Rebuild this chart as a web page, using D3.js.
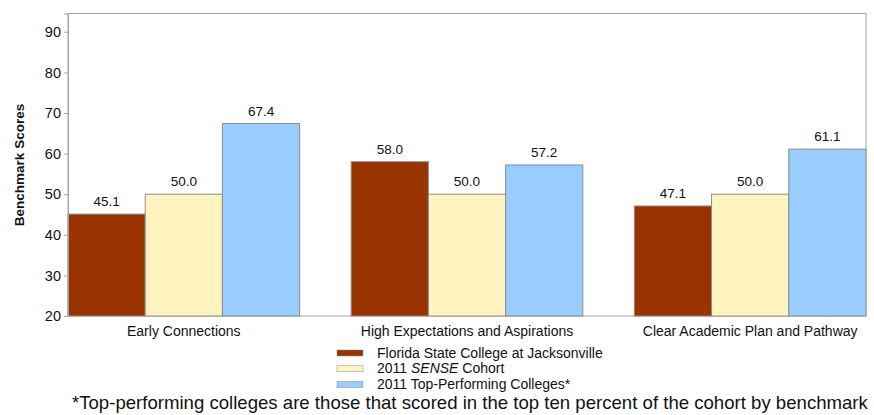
<!DOCTYPE html>
<html>
<head>
<meta charset="utf-8">
<script src="https://cdn.jsdelivr.net/npm/d3@7"></script>
<style>
  body { margin: 0; background: #fff; }
  text { font-family: "Liberation Sans", Arial, sans-serif; fill: #111; }
</style>
</head>
<body>
<svg id="chart" width="874" height="415"></svg>
<script>
// data
const categories = ["Early Connections", "High Expectations and Aspirations", "Clear Academic Plan and Pathway"];
const series = ["Florida State College at Jacksonville", "2011 SENSE Cohort", "2011 Top-Performing Colleges*"];
const college = [45.1, 58.0, 47.1];
const cohort = [50.0, 50.0, 50.0];
const topColleges = [67.4, 57.2, 61.1];
const yTicks = [20, 30, 40, 50, 60, 70, 80, 90];
const colors = ["#993300", "#fff4c0", "#99ccff"];

const values = [college, cohort, topColleges];

const margin = {top: 13.5, right: 8, bottom: 99, left: 68};
const width = 874, height = 415;
const inWidth = width - margin.left - margin.right;
const inHeight = height - margin.top - margin.bottom;

const svg = d3.select("#chart");
const g = svg.append("g").attr("transform", `translate(${margin.left},${margin.top})`);

const x0 = d3.scaleBand()
    .domain(categories)
    .range([0, inWidth])
    .paddingInner(0.182)
    .paddingOuter(0);

const x1 = d3.scaleBand()
    .domain(series)
    .range([0, x0.bandwidth()]);

const y = d3.scaleLinear()
    .domain([20, 94.5])
    .range([inHeight, 0]);

// frame
g.append("rect")
    .attr("width", inWidth)
    .attr("height", inHeight)
    .attr("fill", "none")
    .attr("stroke", "#a6a6a6");

// bars
const groups = g.selectAll(".group")
    .data(categories)
    .enter().append("g")
    .attr("transform", d => `translate(${x0(d)},0)`);

groups.selectAll("rect")
    .data((d, i) => series.map((s, j) => ({s: s, v: values[j][i], j: j})))
    .enter().append("rect")
    .attr("x", d => x1(d.s))
    .attr("y", d => y(d.v))
    .attr("width", x1.bandwidth())
    .attr("height", d => y(20) - y(d.v))
    .attr("fill", d => colors[d.j])
    .attr("stroke", "#8c8c8c")
    .attr("stroke-width", 1);

groups.selectAll(".val")
    .data((d, i) => series.map((s, j) => ({s: s, v: values[j][i]})))
    .enter().append("text")
    .attr("x", d => x1(d.s) + x1.bandwidth() / 2)
    .attr("y", d => y(d.v) - 8)
    .attr("text-anchor", "middle")
    .style("font-size", "13.5px")
    .text(d => d.v.toFixed(1));

// y axis
const yAxis = g.append("g")
    .call(d3.axisLeft(y).tickValues(yTicks).tickSize(4).tickPadding(3));
yAxis.select(".domain").attr("stroke", "#a6a6a6");
yAxis.selectAll(".tick line").attr("stroke", "#a6a6a6");
yAxis.selectAll(".tick text").style("font-size", "14.5px").attr("fill", "#111");

// x labels
g.append("g")
    .selectAll("text")
    .data(categories)
    .enter().append("text")
    .attr("x", d => x0(d) + x0.bandwidth() / 2)
    .attr("y", inHeight + 20)
    .attr("text-anchor", "middle")
    .style("font-size", "14px")
    .text(d => d);

// y title
svg.append("text")
    .attr("transform", `translate(24,165) rotate(-90)`)
    .attr("text-anchor", "middle")
    .style("font-size", "13.5px")
    .style("font-weight", "bold")
    .text("Benchmark Scores");

// legend
const legend = svg.append("g").attr("transform", "translate(337,353)");
series.forEach((s, i) => {
    const row = legend.append("g").attr("transform", `translate(0,${i * 15.8})`);
    row.append("rect")
        .attr("x", 0).attr("y", -3)
        .attr("width", 26).attr("height", 6)
        .attr("fill", colors[i])
        .attr("stroke", "#8c8c8c")
        .attr("stroke-width", 0.5);
    const t = row.append("text")
        .attr("x", 40).attr("y", 4.5)
        .style("font-size", "14px");
    if (i === 1) {
        t.append("tspan").text("2011 ");
        t.append("tspan").style("font-style", "italic").text("SENSE");
        t.append("tspan").text(" Cohort");
    } else {
        t.text(s);
    }
});

// footnote
svg.append("text")
    .attr("x", 72)
    .attr("y", 409)
    .style("font-size", "18.6px")
    .text("*Top-performing colleges are those that scored in the top ten percent of the cohort by benchmark");
</script>
</body>
</html>
